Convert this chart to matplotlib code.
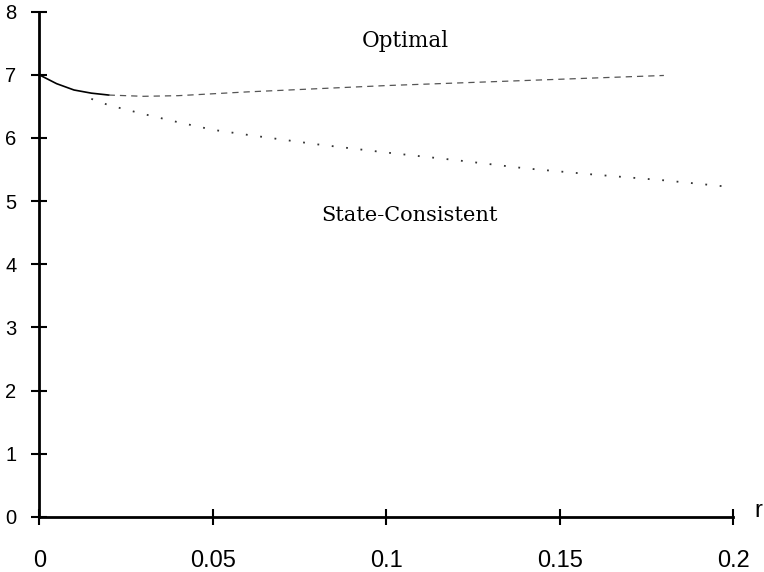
import matplotlib
matplotlib.use("Agg")
import matplotlib.pyplot as plt

# data
r_opt = [0.0, 0.005, 0.01, 0.015, 0.02, 0.03, 0.04, 0.05, 0.06, 0.08, 0.10, 0.12, 0.14, 0.16, 0.18]
optimal = [7.0, 6.86, 6.76, 6.71, 6.68, 6.66, 6.67, 6.70, 6.73, 6.78, 6.83, 6.87, 6.91, 6.95, 6.99]

r_sc = [0.0, 0.005, 0.01, 0.015, 0.02, 0.03, 0.04, 0.05, 0.06, 0.08, 0.10, 0.12, 0.14, 0.16, 0.18, 0.20]
state_consistent = [7.0, 6.86, 6.76, 6.62, 6.52, 6.38, 6.25, 6.13, 6.05, 5.90, 5.77, 5.65, 5.52, 5.42, 5.33, 5.22]

x_ticks = [0, 0.05, 0.1, 0.15, 0.2]
x_tick_labels = ["0", "0.05", "0.1", "0.15", "0.2"]
y_ticks = [0, 1, 2, 3, 4, 5, 6, 7, 8]
y_tick_labels = ["0", "1", "2", "3", "4", "5", "6", "7", "8"]

fig = plt.figure(figsize=(7.64, 5.72), dpi=100)
ax = fig.add_axes([0.0514, 0.0962, 0.9084, 0.8834])

n_solid = 5
ax.plot(r_opt[:n_solid], optimal[:n_solid], color="black", lw=1.2, clip_on=False)
ax.plot(r_opt[n_solid - 1:], optimal[n_solid - 1:], color="#555555", lw=0.9,
        dashes=(5, 4), clip_on=False)
ax.plot(r_sc[3:], state_consistent[3:], color="#333333", lw=1.3,
        dashes=(1, 7), clip_on=False)

ax.set_xlim(0, 0.2)
ax.set_ylim(0, 8)
for s in ["top", "right"]:
    ax.spines[s].set_visible(False)
for s in ["left", "bottom"]:
    ax.spines[s].set_linewidth(2)

ax.set_xticks(x_ticks)
ax.set_xticklabels(x_tick_labels)
ax.set_yticks(y_ticks)
ax.set_yticklabels(y_tick_labels)
ax.tick_params(direction="inout", length=11, width=1.5)
ax.tick_params(axis="x", labelsize=17, pad=18)
ax.tick_params(axis="y", labelsize=14.5, pad=11)
for lab in ax.get_xticklabels() + ax.get_yticklabels():
    lab.set_fontfamily("Liberation Sans")

ax.text(1.031, 0.0, "r", transform=ax.transAxes, fontsize=17,
        family="Liberation Sans", ha="left", va="baseline")
ax.text(0.1054, 7.445, "Optimal", fontsize=15.5, family="DejaVu Serif",
        ha="center", va="baseline")
ax.text(0.1066, 4.68, "State-Consistent", fontsize=15, family="DejaVu Serif",
        ha="center", va="baseline")

fig.savefig("out.png", dpi=100)
